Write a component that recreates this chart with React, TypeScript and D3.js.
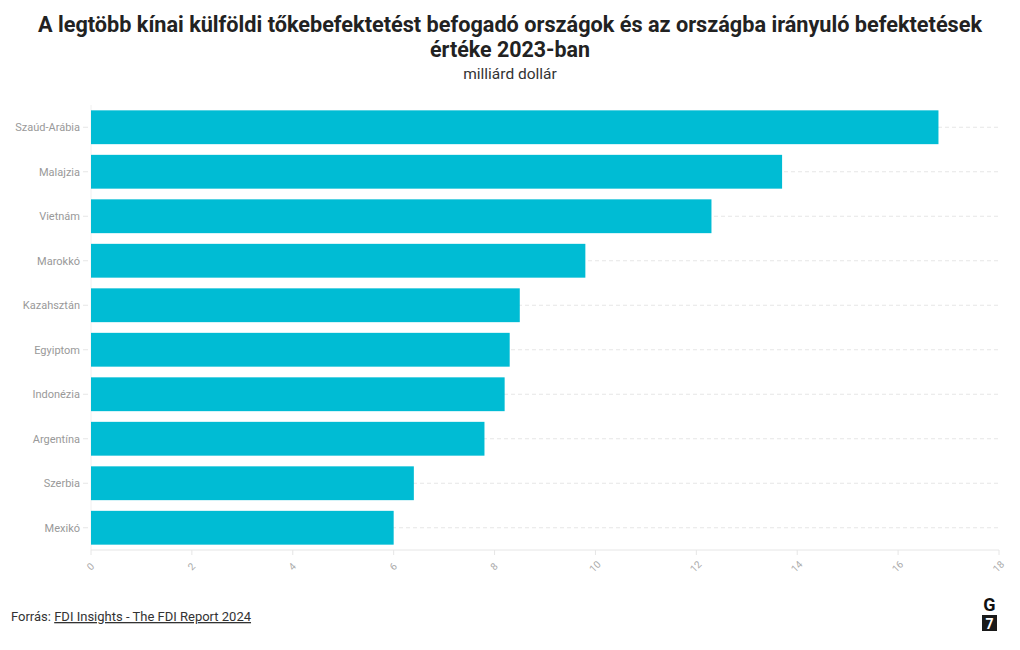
// @ts-nocheck
import * as d3 from 'd3';

const countries = ['Szaúd-Arábia', 'Malajzia', 'Vietnám', 'Marokkó', 'Kazahsztán', 'Egyiptom', 'Indonézia', 'Argentína', 'Szerbia', 'Mexikó'];
const values = [16.8, 13.7, 12.3, 9.8, 8.5, 8.3, 8.2, 7.8, 6.4, 6.0];
const xTicks = [0, 2, 4, 6, 8, 10, 12, 14, 16, 18];

const titleLines = [
  'A legtöbb kínai külföldi tőkebefektetést befogadó országok és az országba irányuló befektetések',
  'értéke 2023-ban',
];
const subtitle = 'milliárd dollár';
const sourceLabel = 'Forrás: ';
const sourceLink = 'FDI Insights - The FDI Report 2024';

const FONT = '"Source Sans Pro", Roboto, "Noto Sans", sans-serif';

const App = () => {
  const width = 1020;
  const height = 650;
  const margin = { top: 105, right: 21, bottom: 100, left: 91 };

  const x = d3.scaleLinear().domain([0, 18]).range([margin.left, width - margin.right]);
  const y = d3.scaleBand().domain(countries).range([margin.top, height - margin.bottom]).paddingInner(0.24).paddingOuter(0.12);

  const data = countries.map((c, i) => ({ country: c, value: values[i] }));
  const axisY = height - margin.bottom;

  return (
    <svg width={width} height={height} style={{ position: 'absolute', left: 0, top: 0, fontFamily: FONT }}>
      <rect width={width} height={height} fill="#fff" />

      {/* title */}
      <text x={510} y={32} textAnchor="middle" fontSize={22} fontWeight="bold" fill="#222" textLength={944} lengthAdjust="spacingAndGlyphs">
        {titleLines[0]}
      </text>
      <text x={510} y={57} textAnchor="middle" fontSize={22} fontWeight="bold" fill="#222" textLength={160} lengthAdjust="spacingAndGlyphs">
        {titleLines[1]}
      </text>
      <text x={510} y={79} textAnchor="middle" fontSize={15.5} fill="#333">
        {subtitle}
      </text>

      {/* grid lines */}
      {data.map(d => (
        <line key={'g' + d.country} x1={x(0)} x2={x(18)} y1={y(d.country) + y.bandwidth() / 2} y2={y(d.country) + y.bandwidth() / 2}
          stroke="#e6e6e6" strokeDasharray="4,3" />
      ))}

      {/* left axis line */}
      <line x1={x(0)} x2={x(0)} y1={margin.top} y2={axisY} stroke="#f0f0f0" />

      {/* bars */}
      {data.map(d => (
        <rect key={d.country} x={x(0)} y={y(d.country)} width={x(d.value) - x(0)} height={y.bandwidth()} fill="#00bcd4" />
      ))}

      {/* y labels */}
      {data.map(d => (
        <g key={'l' + d.country}>
          <line x1={x(0) - 8} x2={x(0) - 3} y1={y(d.country) + y.bandwidth() / 2} y2={y(d.country) + y.bandwidth() / 2} stroke="#e6e6e6" />
          <text x={x(0) - 11} y={y(d.country) + y.bandwidth() / 2} dy="0.35em" textAnchor="end" fontSize={11} fill="#999">
            {d.country}
          </text>
        </g>
      ))}

      {/* x axis */}
      <line x1={x(0)} x2={x(18)} y1={axisY} y2={axisY} stroke="#e6e6e6" />
      {xTicks.map(t => (
        <g key={'t' + t}>
          <line x1={x(t)} x2={x(t)} y1={axisY} y2={axisY + 5} stroke="#e6e6e6" />
          <text transform={`translate(${x(t) + 2},${axisY + 19}) rotate(-45)`} textAnchor="middle" fontSize={10} fill="#aaa">
            {t}
          </text>
        </g>
      ))}

      {/* source */}
      <text x={11} y={621} fontSize={13} fill="#333">
        {sourceLabel}
        <tspan textDecoration="underline" style={{ textDecoration: 'underline' }}>{sourceLink}</tspan>
      </text>

      {/* logo */}
      <text x={989.5} y={611} textAnchor="middle" fontSize={18} fontWeight="bold" fill="#111" fontFamily="Roboto, sans-serif">G</text>
      <rect x={982} y={615} width={15} height={16} fill="#1a1a1a" />
      <text x={989.5} y={629} textAnchor="middle" fontSize={14} fontWeight="bold" fill="#fff" fontFamily="Roboto, sans-serif">7</text>
    </svg>
  );
};

export default App;
